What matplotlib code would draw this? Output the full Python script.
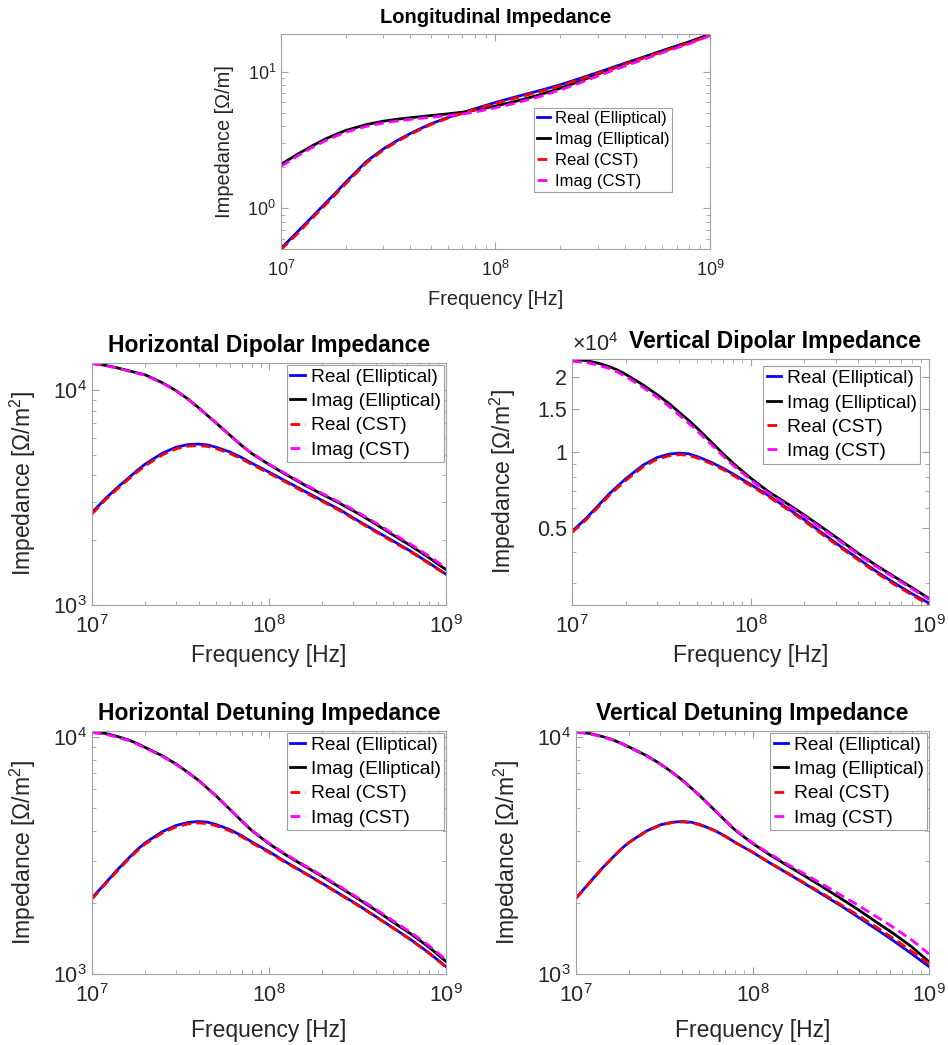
"""Impedance comparison: elliptical model vs CST, five log-log panels."""

import matplotlib

matplotlib.use("Agg")
import matplotlib.pyplot as plt
from matplotlib.ticker import FixedLocator, FixedFormatter, NullFormatter

plt.rcParams["font.family"] = ["Liberation Sans", "DejaVu Sans"]
plt.rcParams["mathtext.fontset"] = "custom"
plt.rcParams["mathtext.rm"] = "Liberation Sans"
plt.rcParams["mathtext.it"] = "Liberation Sans:italic"
plt.rcParams["mathtext.bf"] = "Liberation Sans:bold"
plt.rcParams["mathtext.default"] = "regular"

# frequency grid [Hz]
freq = [1.0e7, 1.2e7, 1.4e7, 1.6e7, 1.8e7, 2.0e7, 2.5e7, 3.0e7, 3.5e7, 4.0e7,
        4.5e7, 5.0e7, 6.0e7, 7.0e7, 8.0e7, 1.0e8, 1.25e8, 1.6e8, 2.0e8, 2.5e8,
        3.2e8, 4.0e8, 5.0e8, 6.3e8, 8.0e8, 1.0e9]

# longitudinal [Ohm/m]
long_re_ell = [0.51, 0.68, 0.87, 1.08, 1.30, 1.55, 2.20, 2.72, 3.15, 3.52,
               3.85, 4.15, 4.62, 5.00, 5.35, 5.95, 6.55, 7.25, 8.00, 8.95,
               10.2, 11.5, 12.9, 14.6, 16.5, 18.7]
long_im_ell = [2.10, 2.50, 2.87, 3.20, 3.47, 3.71, 4.10, 4.34, 4.49, 4.60,
               4.69, 4.77, 4.91, 5.05, 5.22, 5.60, 6.08, 6.75, 7.55, 8.55,
               9.95, 11.3, 12.8, 14.5, 16.4, 18.7]
long_re_cst = [0.50, 0.66, 0.85, 1.05, 1.27, 1.51, 2.15, 2.67, 3.10, 3.47,
               3.80, 4.10, 4.57, 4.95, 5.28, 5.85, 6.42, 7.12, 7.85, 8.80,
               10.0, 11.3, 12.7, 14.35, 16.2, 18.4]
long_im_cst = [2.03, 2.43, 2.79, 3.11, 3.37, 3.60, 3.98, 4.21, 4.36, 4.47,
               4.56, 4.64, 4.77, 4.90, 5.06, 5.43, 5.90, 6.55, 7.33, 8.30,
               9.65, 10.95, 12.4, 14.1, 15.95, 18.3]

# horizontal dipolar [Ohm/m^2]
hdip_re_ell = [2690, 3140, 3530, 3880, 4220, 4520, 5080, 5420, 5570, 5600,
               5550, 5420, 5150, 4850, 4560, 4150, 3760, 3370, 3060, 2780,
               2460, 2210, 1990, 1780, 1570, 1390]
hdip_im_ell = [13300, 13000, 12650, 12300, 12000, 11750, 10800, 9900, 9050, 8270,
               7600, 7050, 6170, 5520, 5060, 4500, 4040, 3600, 3270, 2975,
               2660, 2380, 2120, 1890, 1660, 1460]
hdip_re_cst = [2650, 3100, 3480, 3830, 4150, 4440, 4990, 5330, 5480, 5510,
               5460, 5340, 5070, 4780, 4500, 4100, 3720, 3330, 3030, 2750,
               2440, 2190, 1970, 1770, 1560, 1385]
hdip_im_cst = [13250, 12950, 12600, 12250, 11950, 11700, 10750, 9870, 9020, 8250,
               7590, 7040, 6170, 5530, 5080, 4520, 4070, 3630, 3300, 3005,
               2690, 2410, 2150, 1920, 1690, 1490]

# vertical dipolar [Ohm/m^2]
vdip_re_ell = [4830, 5450, 6120, 6780, 7330, 7850, 8900, 9550, 9850, 9950,
               9880, 9650, 9150, 8650, 8200, 7450, 6750, 6000, 5380, 4780,
               4200, 3760, 3360, 3020, 2720, 2490]
vdip_im_ell = [23600, 23350, 22800, 22150, 21400, 20550, 18650, 17050, 15700, 14450,
               13450, 12550, 11050, 9900, 9050, 7900, 7000, 6250, 5620, 5030,
               4440, 3950, 3550, 3200, 2880, 2600]
vdip_re_cst = [4780, 5380, 6040, 6680, 7220, 7730, 8760, 9400, 9700, 9800,
               9740, 9520, 9030, 8550, 8100, 7370, 6680, 5940, 5320, 4720,
               4150, 3720, 3320, 2980, 2690, 2450]
vdip_im_cst = [23200, 22950, 22400, 21750, 21000, 20150, 18250, 16650, 15300, 14100,
               13100, 12250, 10800, 9700, 8880, 7780, 6900, 6170, 5550, 4970,
               4390, 3910, 3510, 3170, 2850, 2580]

# horizontal detuning [Ohm/m^2]
hdet_re_ell = [2090, 2430, 2760, 3060, 3340, 3570, 3980, 4230, 4350, 4390,
               4360, 4270, 4060, 3830, 3600, 3280, 2960, 2660, 2410, 2180,
               1950, 1750, 1570, 1400, 1230, 1075]
hdet_im_ell = [10500, 10300, 10000, 9700, 9350, 9000, 8300, 7650, 7050, 6550,
               6050, 5650, 4950, 4420, 4020, 3540, 3170, 2840, 2575, 2325,
               2070, 1860, 1660, 1480, 1300, 1130]
hdet_re_cst = [2070, 2410, 2730, 3030, 3300, 3530, 3930, 4170, 4290, 4330,
               4300, 4220, 4010, 3790, 3570, 3250, 2940, 2650, 2400, 2170,
               1940, 1745, 1565, 1395, 1225, 1070]
hdet_im_cst = [10400, 10220, 9930, 9640, 9300, 8950, 8260, 7620, 7030, 6530,
               6040, 5640, 4950, 4430, 4030, 3560, 3190, 2860, 2595, 2345,
               2090, 1880, 1680, 1500, 1320, 1150]

# vertical detuning [Ohm/m^2]
vdet_re_ell = [2090, 2440, 2780, 3080, 3360, 3590, 4000, 4250, 4360, 4390,
               4360, 4270, 4050, 3810, 3580, 3260, 2940, 2640, 2390, 2160,
               1930, 1730, 1550, 1380, 1215, 1075]
vdet_im_ell = [10500, 10300, 10020, 9720, 9380, 9040, 8330, 7680, 7080, 6560,
               6070, 5660, 4960, 4430, 4030, 3550, 3180, 2845, 2575, 2325,
               2070, 1860, 1660, 1480, 1300, 1125]
vdet_re_cst = [2080, 2430, 2770, 3070, 3350, 3580, 3985, 4230, 4340, 4370,
               4340, 4250, 4040, 3800, 3575, 3260, 2945, 2650, 2400, 2180,
               1950, 1760, 1580, 1410, 1245, 1105]
vdet_im_cst = [10450, 10260, 9990, 9690, 9350, 9010, 8300, 7660, 7060, 6550,
               6060, 5650, 4960, 4440, 4050, 3570, 3210, 2885, 2625, 2385,
               2140, 1940, 1750, 1570, 1390, 1215]

labels = ["Real (Elliptical)", "Imag (Elliptical)", "Real (CST)", "Imag (CST)"]

AX_GRAY = "#a0a0a0"
TXT = "#262626"


def draw_panel(ax, series, title, ylabel, ylim, fs, legend_kw, title_x=0.5):
    re_ell, im_ell, re_cst, im_cst = series
    lw = 2.0
    dash = (0, (3.5, 1.8))
    ax.plot(freq, re_ell, color="blue", lw=lw, label=labels[0])
    ax.plot(freq, im_ell, color="black", lw=lw, label=labels[1])
    ax.plot(freq, re_cst, color="red", lw=lw, ls=dash, label=labels[2])
    ax.plot(freq, im_cst, color="magenta", lw=lw, ls=dash, label=labels[3])
    ax.set_xscale("log")
    ax.set_yscale("log")
    ax.set_xlim(1e7, 1e9)
    ax.set_ylim(*ylim)
    ax.set_xticks([1e7, 1e8, 1e9])
    for side in ax.spines.values():
        side.set_color(AX_GRAY)
        side.set_linewidth(0.8)
    ax.tick_params(which="both", direction="in", top=True, right=True,
                   color=AX_GRAY, labelcolor=TXT, labelsize=fs["tick"])
    ax.tick_params(which="major", length=5)
    ax.tick_params(which="minor", length=3)
    ax.tick_params(axis="x", which="both", pad=fs["xpad"])
    ax.set_xlabel("Frequency [Hz]", fontsize=fs["label"], color=TXT)
    ax.set_ylabel(ylabel, fontsize=fs["label"], color=TXT)
    ax.set_title(title, fontsize=fs["title"], fontweight="bold",
                 pad=fs["tpad"], x=title_x)
    leg = ax.legend(fontsize=fs["legend"], fancybox=False, framealpha=1,
                    edgecolor=AX_GRAY, handlelength=0.75, handletextpad=0.3,
                    borderpad=0.18, labelspacing=0.36, **legend_kw)
    leg.get_frame().set_linewidth(0.8)
    return ax


fig = plt.figure(figsize=(9.48, 10.45), dpi=100)

small = {"tick": 13, "label": 14.4, "title": 14.5, "legend": 12,
         "xpad": 8, "tpad": 8}
big = {"tick": 15.5, "label": 16.5, "title": 16.5, "legend": 13.8,
       "xpad": 7, "tpad": 8}

ax_long = fig.add_axes([0.2964, 0.7617, 0.4525, 0.2057])
draw_panel(ax_long, (long_re_ell, long_im_ell, long_re_cst, long_im_cst),
           "Longitudinal Impedance", "Impedance [Ω/m]", (0.505, 18.8), small,
           {"loc": "upper right", "bbox_to_anchor": (0.912, 0.656), "borderaxespad": 0})
ax_long.yaxis.set_label_coords(-0.110, 0.5)
ax_long.xaxis.set_label_coords(0.5, -0.19)

ax_hdip = fig.add_axes([0.0970, 0.4211, 0.3734, 0.2316])
draw_panel(ax_hdip, (hdip_re_ell, hdip_im_ell, hdip_re_cst, hdip_im_cst),
           "Horizontal Dipolar Impedance", "Impedance [Ω/m$^2$]", (1000, 13350), big,
           {"loc": "upper right", "borderaxespad": 0.1})
ax_hdip.yaxis.set_label_coords(-0.153, 0.5)
ax_hdip.xaxis.set_label_coords(0.5, -0.16)

ax_vdip = fig.add_axes([0.6034, 0.4211, 0.3766, 0.2354])
draw_panel(ax_vdip, (vdip_re_ell, vdip_im_ell, vdip_re_cst, vdip_im_cst),
           "Vertical Dipolar Impedance", "Impedance [Ω/m$^2$]", (2450, 23700), big,
           {"loc": "upper right", "bbox_to_anchor": (0.975, 0.97), "borderaxespad": 0},
           title_x=0.569)
ax_vdip.yaxis.set_major_locator(FixedLocator([5000, 10000, 15000, 20000]))
ax_vdip.yaxis.set_major_formatter(FixedFormatter(["0.5", "1", "1.5", "2"]))
ax_vdip.yaxis.set_minor_formatter(NullFormatter())
ax_vdip.text(0.0, 1.012, r"$\times10^{4}$", transform=ax_vdip.transAxes,
             fontsize=big["tick"], color=TXT, ha="left", va="bottom")
ax_vdip.yaxis.set_label_coords(-0.150, 0.5)
ax_vdip.xaxis.set_label_coords(0.5, -0.16)

ax_hdet = fig.add_axes([0.0970, 0.0679, 0.3734, 0.2325])
draw_panel(ax_hdet, (hdet_re_ell, hdet_im_ell, hdet_re_cst, hdet_im_cst),
           "Horizontal Detuning Impedance", "Impedance [Ω/m$^2$]", (1000, 10550), big,
           {"loc": "upper right", "borderaxespad": 0.1})
ax_hdet.yaxis.set_label_coords(-0.153, 0.5)
ax_hdet.xaxis.set_label_coords(0.5, -0.185)

ax_vdet = fig.add_axes([0.6076, 0.0679, 0.3724, 0.2325])
draw_panel(ax_vdet, (vdet_re_ell, vdet_im_ell, vdet_re_cst, vdet_im_cst),
           "Vertical Detuning Impedance", "Impedance [Ω/m$^2$]", (1000, 10550), big,
           {"loc": "upper right", "borderaxespad": 0.1})
ax_vdet.yaxis.set_label_coords(-0.153, 0.5)
ax_vdet.xaxis.set_label_coords(0.5, -0.185)

fig.savefig("out.png", dpi=100)
plt.close(fig)
